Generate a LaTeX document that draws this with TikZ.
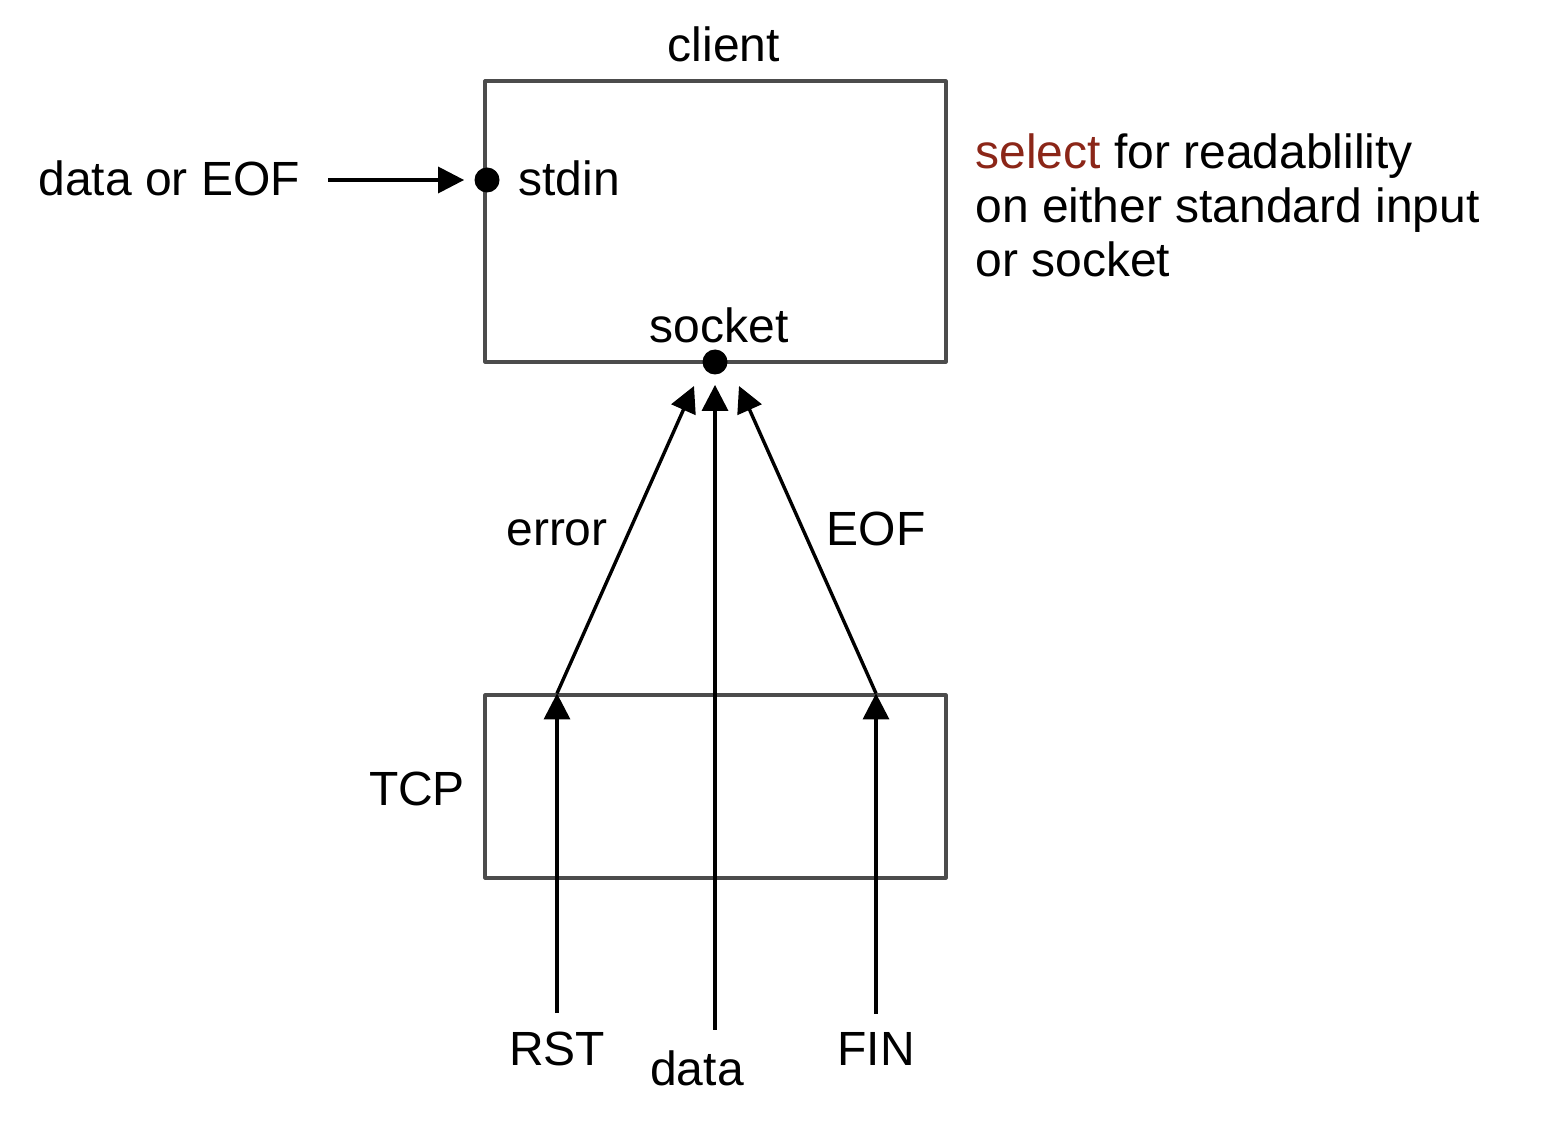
\documentclass[tikz,border=0pt]{standalone}
\usepackage{fontspec}
\setmainfont{Liberation Sans}
\usetikzlibrary{arrows.meta}
\definecolor{selred}{RGB}{139,38,24}
\begin{document}
\begin{tikzpicture}[x=0.5pt,y=-0.5pt,>={Triangle[length=13pt,width=13pt]},line join=round,
	font=\fontsize{24}{27}\selectfont,
	box/.style={draw=black!70,line width=1.6pt,inner sep=0pt},
	dot/.style={circle,fill,inner sep=0pt,minimum size=12.5pt},
	txt/.style={inner sep=0pt,anchor=base},
	flow/.style={->,line width=1.7pt}]
	\useasboundingbox (0,0) rectangle (1556,1122);
	% the two boxes
	\node[box,minimum width=230.5pt,minimum height=140.5pt] (clientbox) at (715.5,221.5) {};
	\node[box,minimum width=230.5pt,minimum height=91.5pt] (tcpbox) at (715.5,786.5) {};
	\node[txt] (client) at (724,62) {client};
	\node[txt] (tcp) at (417,805) {TCP};
	% descriptors
	\node[dot] (stdin) at (487,180) {};
	\node[dot] (sock) at (715,362) {};
	\node[txt,anchor=base west] (stdinlbl) at (518,196) {stdin};
	\node[txt] (socklbl) at (719,343) {socket};
	\node[txt,anchor=base west] (input) at (38,196) {data or EOF};
	\node[anchor=north west,inner sep=0pt,align=left] (note) at (975,133)
		{\textcolor{selred}{select} for readablility\\on either standard input\\or socket};
	% segments arriving at TCP
	\node[txt] (rst) at (557,1065) {RST};
	\node[txt] (data) at (697,1085) {data};
	\node[txt] (fin) at (876,1065) {FIN};
	\node[txt] (errlbl) at (557,545) {error};
	\node[txt] (eoflbl) at (876,545) {EOF};
	\coordinate (rstin) at (rst |- tcpbox.north);
	\coordinate (finin) at (fin |- tcpbox.north);
	\coordinate (errtip) at (694,386);
	\coordinate (eoftip) at (739,386);
	\draw[flow,shorten <=14pt,shorten >=5pt] (input.east |- stdin) -- (stdin);
	\draw[flow,shorten <=9pt] (rst.north) -- (rstin);
	\draw[flow,shorten <=9pt] (fin.north) -- (finin);
	\draw[flow,shorten <=10pt,shorten >=5pt] (data.north -| sock) -- (sock);
	\draw[flow] (rstin) -- (errtip);
	\draw[flow] (finin) -- (eoftip);
\end{tikzpicture}
\end{document}
